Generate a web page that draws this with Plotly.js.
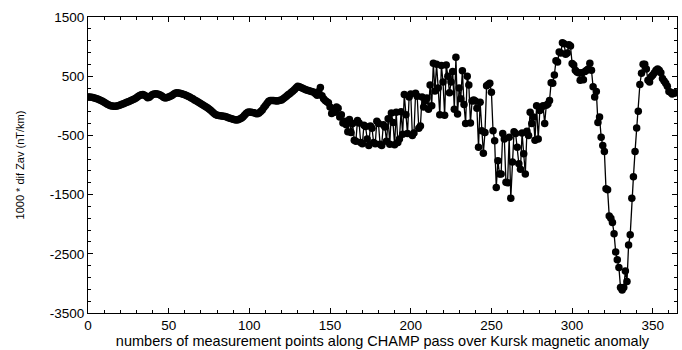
<!DOCTYPE html>
<html>
<head>
<meta charset="utf-8">
<script src="https://cdn.plot.ly/plotly-3.0.1.min.js"></script>
<style>html,body{margin:0;padding:0;background:#fff;}#chart{width:682px;height:350px;}</style>
</head>
<body>
<div id="chart"></div>
<script>
// measurement point numbers start at 0, one value per point
const firstPoint = 0;
// values 1000 * dif Zav (nT/km), in blocks of points
const zav000 = [150,148,145,140,132,125,115,102,88,75,62,45,28,12,2,-5,-8,-8,-5,5,15,25,35,48,58,70,82,95,108,120,135,155,175,188,190,180,160,135,145,170,190,200,205,198,190,178,160,140,132,140];
const zav050 = [150,162,175,195,212,220,218,212,205,195,185,172,160,148,133,118,100,85,68,52,35,18,0,-18,-35,-52,-75,-100,-125,-145,-160,-165,-170,-172,-175,-180,-190,-200,-210,-220,-228,-235,-238,-235,-225,-210,-190,-160,-130,-110];
const zav100 = [-105,-108,-112,-118,-128,-135,-120,-95,-70,-30,5,45,78,88,90,88,85,82,85,92,100,118,140,160,185,205,228,250,275,305,330,320,308,298,285,270,262,255,245,238,228,205,180,240,310,170,120,90,70,50];
const zav150 = [-20,-130,-60,-110,-20,-40,-190,-150,-290,-260,-320,-440,-230,-450,-300,-580,-600,-250,-290,-620,-640,-330,-350,-560,-670,-340,-380,-620,-640,-260,-300,-650,-670,-320,-360,-600,-220,-650,-120,-280,-660,-110,-620,-560,-100,-480,190,-150,-470,150];
const zav200 = [200,-500,-460,210,160,-380,-340,150,-20,90,130,-60,350,0,720,250,700,300,-150,680,400,-160,690,500,220,400,580,-60,820,-140,300,120,590,20,-300,500,350,-290,80,100];
const zav240 = [80,-40,-700,60,-420,-800,-450,340,360,380,230,-420,-590,-1380,-930,-1150,-1150,-470,-560,-1290,-1300,-530,-1560,-950,-440,-470,-700,-980,-1070,-460,-810,-1150,-430,-500,-110,-300,-190,-580,0,-560,-80,-30,0,-300,10,30,90,390,380,520];
const zav290 = [760,740,910,890,1065,1050,870,890,1030,1010,715,690,600,570,560,430,560,440,580,600,620,720,600,320,150,240,-280,-190,-530,-670,-770,-1400,-1420,-1860,-1900,-1970,-2160,-2470,-2600,-2730];
const zav330 = [-3070,-3110,-3070,-2790,-2970,-2350,-2180,-1560,-1200,-770,-375,-90,360,550,700,700,620,430,400,490,520,560,600,620,600,560,460,420,380,330,240,230,200,210,220];

const yTickVals = [1500,500,-500,-1500,-2500,-3500];
const yTickText = ['1500','500','-500','-1500','-2500','-3500'];
const xTickVals = [0,50,100,150,200,250,300,350];

const yVals = [].concat(zav000, zav050, zav100, zav150, zav200, zav240, zav290, zav330);
const xVals = yVals.map((_, i) => firstPoint + i);

const font = 'Liberation Sans, Arial, sans-serif';
const trace = {
  x: xVals, y: yVals, type: 'scatter', mode: 'lines+markers',
  line: {color: '#000', width: 1.3},
  marker: {color: '#000', size: 7.5, symbol: 'circle'},
  hoverinfo: 'skip'
};
const axisCommon = {
  showgrid: false, zeroline: false, showline: true, linecolor: '#000', linewidth: 1,
  mirror: 'allticks', ticks: 'inside', ticklen: 5, tickcolor: '#000', tickwidth: 1,
  tickfont: {family: font, size: 13.5, color: '#000'}
};
const layout = {
  width: 682, height: 350,
  margin: {l: 88, r: 5, t: 17, b: 37},
  paper_bgcolor: '#fff', plot_bgcolor: '#fff',
  showlegend: false,
  xaxis: Object.assign({}, axisCommon, {
    range: [0, 365], tickmode: 'array', tickvals: xTickVals,
    minor: {dtick: 10, tick0: 0, ticks: 'inside', ticklen: 3, tickcolor: '#000', showgrid: false},
    title: {text: 'numbers of measurement points along CHAMP pass over Kursk magnetic anomaly', font: {family: font, size: 14.5, color: '#000'}, standoff: 3}
  }),
  yaxis: Object.assign({}, axisCommon, {
    range: [-3500, 1500], tickmode: 'array', tickvals: yTickVals, ticktext: yTickText,
    minor: {dtick: 200, tick0: -3500, ticks: 'inside', ticklen: 3, tickcolor: '#000', showgrid: false},
    title: {text: '1000 * dif Zav (nT/km)', font: {family: font, size: 11, color: '#000'}, standoff: 22}
  })
};
Plotly.newPlot('chart', [trace], layout, {staticPlot: true, displayModeBar: false});
</script>
</body>
</html>
